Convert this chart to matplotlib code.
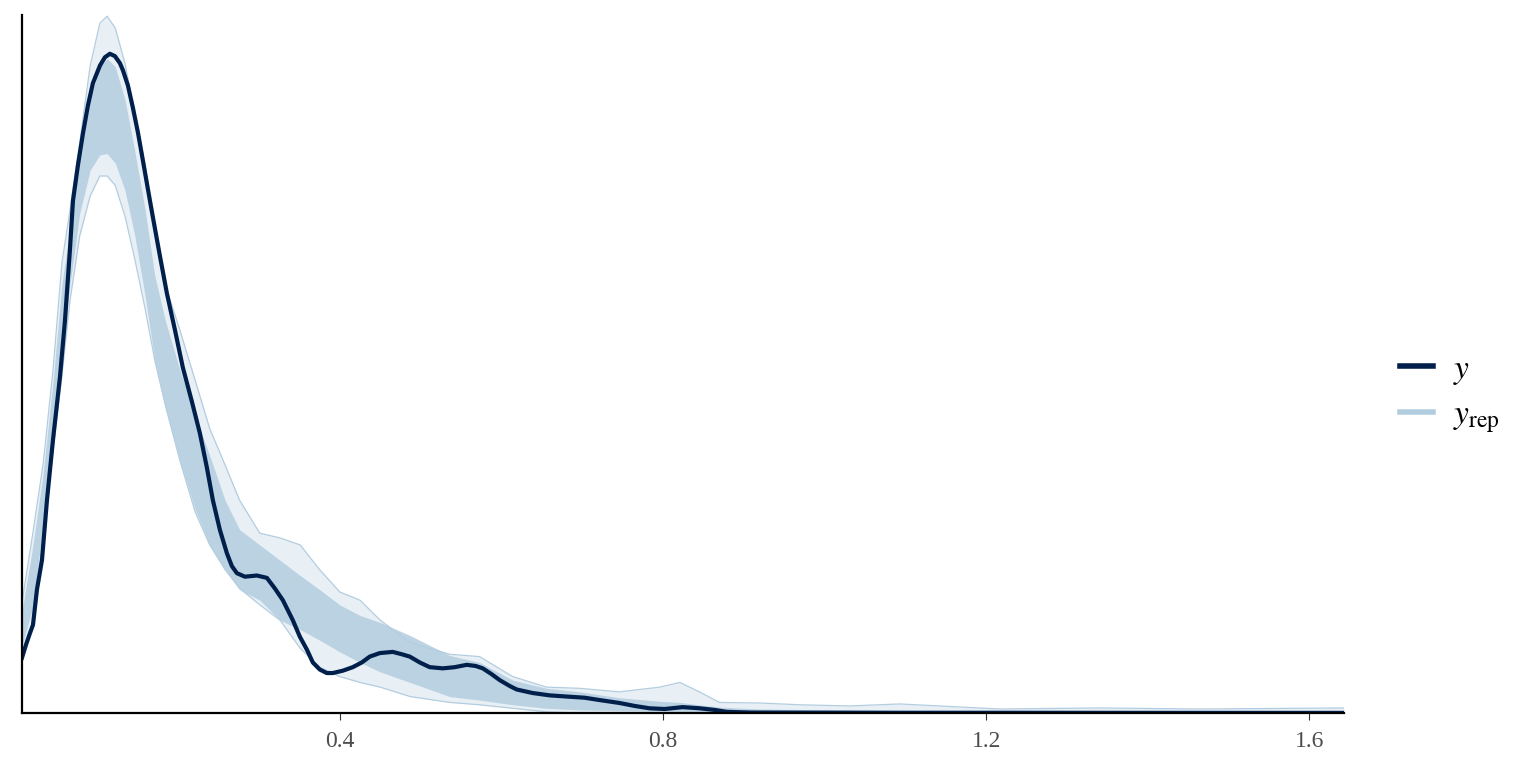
import numpy as np
import matplotlib
matplotlib.use("Agg")
import matplotlib.pyplot as plt
from matplotlib.lines import Line2D

plt.rcParams['font.family'] = ['Liberation Serif', 'DejaVu Serif']
plt.rcParams['mathtext.fontset'] = 'stix'

# observed density y
y_x = [0.0066, 0.0115, 0.0165, 0.0202, 0.0251, 0.0313, 0.0375, 0.0449, 0.0536, 0.0598,
       0.0659, 0.0697, 0.0758, 0.0820, 0.0882, 0.0944, 0.1031, 0.1092, 0.1154, 0.1216,
       0.1278, 0.1315, 0.1377, 0.1439, 0.1501, 0.1563, 0.1624, 0.1686, 0.1773, 0.1860,
       0.1959, 0.2057, 0.2169, 0.2268, 0.2354, 0.2429, 0.2515, 0.2602, 0.2664, 0.2726,
       0.2825, 0.2973, 0.3097, 0.3196, 0.3295, 0.3418, 0.3505, 0.3592, 0.3666, 0.3752,
       0.3839, 0.3913, 0.4037, 0.4160, 0.4272, 0.4371, 0.4495, 0.4655, 0.4767, 0.4866,
       0.4990, 0.5113, 0.5274, 0.5423, 0.5571, 0.5682, 0.5769, 0.5880, 0.5979, 0.6103,
       0.6190, 0.6387, 0.6598, 0.6808, 0.7031, 0.7217, 0.7464, 0.7650, 0.7835, 0.8021,
       0.8243, 0.8454, 0.8640, 0.8788, 0.9073, 0.97, 1.09, 1.217, 1.34, 1.46, 1.643]
y_dens = [0.47, 0.58, 0.68, 0.75, 1.05, 1.30, 1.81, 2.32, 2.86, 3.34,
          3.94, 4.36, 4.66, 4.93, 5.17, 5.36, 5.51, 5.58, 5.61, 5.59,
          5.53, 5.47, 5.34, 5.15, 4.94, 4.70, 4.46, 4.22, 3.89, 3.57,
          3.26, 2.94, 2.65, 2.38, 2.09, 1.81, 1.56, 1.36, 1.25, 1.19,
          1.16, 1.17, 1.15, 1.06, 0.96, 0.79, 0.65, 0.54, 0.43, 0.37,
          0.34, 0.34, 0.36, 0.39, 0.43, 0.48, 0.51, 0.52, 0.50, 0.48,
          0.43, 0.39, 0.38, 0.39, 0.41, 0.40, 0.38, 0.33, 0.28, 0.23,
          0.20, 0.17, 0.15, 0.14, 0.13, 0.11, 0.085, 0.06, 0.04, 0.034,
          0.05, 0.04, 0.026, 0.01, 0.004, 0.003, 0.002, 0.002, 0.0015, 0.001, 0.001]

# replicated densities y_rep: outer envelope and dense core band
rep_x = [0.007, 0.020, 0.033, 0.045, 0.056, 0.066, 0.078, 0.091, 0.103, 0.112,
         0.122, 0.134, 0.146, 0.159, 0.171, 0.184, 0.202, 0.221, 0.239, 0.258,
         0.276, 0.301, 0.326, 0.351, 0.375, 0.400, 0.425, 0.450, 0.487, 0.536,
         0.573, 0.614, 0.656, 0.697, 0.746, 0.796, 0.821, 0.845, 0.870, 0.920,
         0.969, 1.031, 1.093, 1.217, 1.340, 1.464, 1.643]
rep_max = [0.96, 1.53, 2.13, 2.92, 3.83, 4.28, 4.85, 5.51, 5.87, 5.93,
           5.83, 5.53, 5.11, 4.66, 4.15, 3.64, 3.26, 2.83, 2.42, 2.11,
           1.81, 1.53, 1.49, 1.43, 1.22, 1.03, 0.96, 0.79, 0.60, 0.50,
           0.48, 0.31, 0.22, 0.21, 0.18, 0.22, 0.26, 0.18, 0.09, 0.085,
           0.07, 0.06, 0.077, 0.034, 0.043, 0.034, 0.043]
rep_min = [0.47, 0.75, 1.51, 2.24, 2.87, 3.51, 4.06, 4.40, 4.57, 4.57,
           4.49, 4.23, 3.87, 3.44, 3.00, 2.62, 2.15, 1.71, 1.43, 1.22,
           1.06, 0.92, 0.79, 0.55, 0.39, 0.31, 0.26, 0.22, 0.14, 0.09,
           0.07, 0.04, 0.01, 0.0, 0.0, 0.0, 0.0, 0.0, 0.0, 0.0,
           0.0, 0.0, 0.0, 0.0, 0.0, 0.0, 0.0]
core_hi = [0.88, 1.42, 2.05, 2.82, 3.65, 4.12, 4.72, 5.22, 5.50, 5.57,
           5.50, 5.22, 4.79, 4.28, 3.72, 3.34, 2.92, 2.53, 2.19, 1.81,
           1.56, 1.43, 1.30, 1.17, 1.05, 0.92, 0.83, 0.77, 0.66, 0.49,
           0.43, 0.28, 0.21, 0.18, 0.13, 0.10, 0.09, 0.07, 0.05, 0.034,
           0.03, 0.026, 0.021, 0.017, 0.013, 0.013, 0.009]
core_lo = [0.58, 0.90, 1.62, 2.38, 3.08, 3.65, 4.25, 4.62, 4.75, 4.76,
           4.68, 4.45, 4.07, 3.55, 3.00, 2.60, 2.15, 1.73, 1.43, 1.22,
           1.05, 0.96, 0.79, 0.71, 0.62, 0.52, 0.43, 0.35, 0.26, 0.14,
           0.11, 0.07, 0.04, 0.026, 0.02, 0.016, 0.014, 0.012, 0.01, 0.009,
           0.008, 0.007, 0.006, 0.005, 0.005, 0.005, 0.004]

dark = '#011f4b'
light = '#b3cde0'

fig = plt.figure(figsize=(15.36, 7.68), dpi=100)
ax = fig.add_axes([22 / 1536, 55 / 768, (1344 - 22) / 1536, (713 - 15) / 768])

ax.fill_between(rep_x, rep_min, rep_max, color=light, alpha=0.3, lw=0)
ax.fill_between(rep_x, core_lo, core_hi, color=light, alpha=0.85, lw=0)
ax.plot(rep_x, rep_max, color=light, lw=0.9)
ax.plot(rep_x, rep_min, color=light, lw=0.9)
ax.plot(y_x, y_dens, color=dark, lw=3.0, solid_joinstyle='round')

ax.set_xlim(0.0066, 1.643)
ax.set_ylim(0, 5.94)
ax.set_xticks([0.4, 0.8, 1.2, 1.6])
ax.set_xticklabels(['0.4', '0.8', '1.2', '1.6'])
ax.set_yticks([])
ax.tick_params(axis='x', length=5, width=0.8, color='#333333', labelcolor='#4d4d4d',
               labelsize=17, pad=8)
for s in ['top', 'right']:
    ax.spines[s].set_visible(False)
for s in ['left', 'bottom']:
    ax.spines[s].set_linewidth(1.6)
    ax.spines[s].set_color('black')

handles = [Line2D([], [], color=dark, lw=4), Line2D([], [], color=light, lw=4)]
fig.legend(handles, [r'$y$', r'$y_{\mathrm{rep}}$'], loc='center left',
           bbox_to_anchor=(1370 / 1536, 0.486), frameon=False, fontsize=24,
           handlelength=1.0, handletextpad=0.6, labelspacing=0.4)

fig.savefig('out.png', dpi=100)
